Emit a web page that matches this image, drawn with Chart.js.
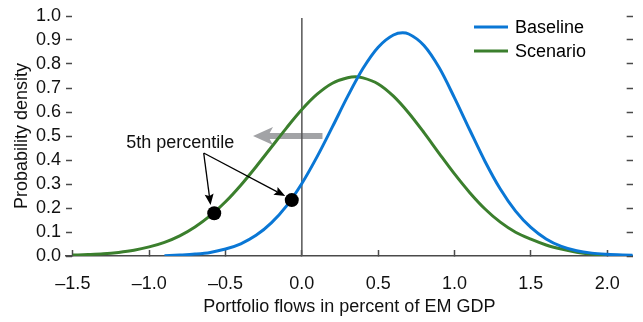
<!DOCTYPE html>
<html>
<head>
<meta charset="utf-8">
<script src="https://cdn.jsdelivr.net/npm/chart.js@4.4.1/dist/chart.umd.min.js"></script>
<style>
  html, body { margin: 0; padding: 0; background: #fff; }
  #wrap { width: 643px; height: 322px; position: relative; }
</style>
</head>
<body>
<div id="wrap"><canvas id="densityChart"></canvas></div>
<script>
// Portfolio flows density chart

// baseline curve
const baselineX = [-0.9, -0.8, -0.7, -0.6, -0.5, -0.4, -0.3, -0.2, -0.1, 0.0,
                   0.1, 0.2, 0.3, 0.4, 0.5, 0.6, 0.66, 0.7, 0.8, 0.9, 1.0,
                   1.1, 1.2, 1.3, 1.4, 1.5, 1.6, 1.7, 1.8, 1.9, 2.0, 2.1, 2.2];
const baselineY = [0.001, 0.004, 0.008, 0.015, 0.029, 0.051, 0.086, 0.138, 0.209, 0.302,
                   0.414, 0.538, 0.665, 0.781, 0.870, 0.921, 0.930, 0.925, 0.877, 0.784, 0.659,
                   0.525, 0.394, 0.279, 0.187, 0.119, 0.071, 0.040, 0.022, 0.012, 0.007, 0.004, 0.002];

// scenario curve
const scenarioX = [-1.5, -1.4, -1.3, -1.2, -1.1, -1.0, -0.9, -0.8, -0.7, -0.6,
                   -0.5, -0.4, -0.3, -0.2, -0.1, 0.0, 0.1, 0.2, 0.3, 0.35, 0.4,
                   0.5, 0.6, 0.7, 0.8, 0.9, 1.0, 1.1, 1.2, 1.3, 1.4,
                   1.5, 1.6, 1.7, 1.8, 1.9, 2.0];
const scenarioY = [0.004, 0.006, 0.009, 0.015, 0.024, 0.038, 0.057, 0.084, 0.121, 0.168,
                   0.226, 0.295, 0.372, 0.453, 0.534, 0.610, 0.674, 0.720, 0.743, 0.747, 0.742,
                   0.717, 0.666, 0.596, 0.514, 0.427, 0.342, 0.264, 0.196, 0.141, 0.099,
                   0.070, 0.046, 0.029, 0.016, 0.008, 0.003];

// 5th percentile markers (scenario, baseline)
const pctX = [-0.574, -0.066];
const pctY = [0.178, 0.233];

// vertical line at zero
const zeroLineX = [0, 0];
const zeroLineY = [0, 0.992];

// ticks
const xTicks = [-1.5, -1.0, -0.5, 0.0, 0.5, 1.0, 1.5, 2.0];
const xTickLabels = ['\u20131.5', '\u20131.0', '\u20130.5', '0.0', '0.5', '1.0', '1.5', '2.0'];
const yTicks = [0, 0.1, 0.2, 0.3, 0.4, 0.5, 0.6, 0.7, 0.8, 0.9, 1.0];
const yTickLabels = ['0.0', '0.1', '0.2', '0.3', '0.4', '0.5', '0.6', '0.7', '0.8', '0.9', '1.0'];

const BLUE = '#0a77d5';
const GREEN = '#3b7f2d';
const AXIS = '#4a4a4a';
const FONT = "'Liberation Sans', Arial, sans-serif";
const FSIZE = 18;

Chart.defaults.font.family = FONT;
Chart.defaults.font.size = FSIZE;
Chart.defaults.color = '#111';

function zip(xs, ys) {
    return xs.map((x, i) => ({ x: x, y: ys[i] }));
}

function arrow(ctx, x1, y1, x2, y2, len, half, notch, color, width) {
    const a = Math.atan2(y2 - y1, x2 - x1);
    const c = Math.cos(a), s = Math.sin(a);
    const bx = x2 - len * c, by = y2 - len * s;
    ctx.strokeStyle = color;
    ctx.lineWidth = width;
    ctx.beginPath();
    ctx.moveTo(x1, y1);
    ctx.lineTo(bx + notch * c, by + notch * s);
    ctx.stroke();
    ctx.fillStyle = color;
    ctx.beginPath();
    ctx.moveTo(x2, y2);
    ctx.lineTo(bx + half * s, by - half * c);
    ctx.lineTo(bx + notch * c, by + notch * s);
    ctx.lineTo(bx - half * s, by + half * c);
    ctx.closePath();
    ctx.fill();
}

// annotations: grey shift arrow, percentile label + arrows, legend
const annotations = {
    id: 'annotations',
    beforeDatasetsDraw(chart) {
        const { ctx, scales: { x, y } } = chart;
        ctx.save();
        arrow(ctx, x.getPixelForValue(0.135), y.getPixelForValue(0.5),
              x.getPixelForValue(-0.32), y.getPixelForValue(0.5),
              20, 9, 5, '#a2a3a6', 6);
        ctx.restore();
    },
    afterDatasetsDraw(chart) {
        const { ctx, scales: { x, y } } = chart;
        ctx.save();
        ctx.font = FSIZE + 'px ' + FONT;
        ctx.fillStyle = '#111';
        ctx.textBaseline = 'alphabetic';
        ctx.textAlign = 'left';
        ctx.fillText('5th percentile', x.getPixelForValue(-1.151), y.getPixelForValue(0.45));

        const ox = x.getPixelForValue(-0.643), oy = y.getPixelForValue(0.429);
        arrow(ctx, ox, oy, x.getPixelForValue(-0.598), y.getPixelForValue(0.2125), 11, 4.5, 2, '#000', 1.3);
        arrow(ctx, ox, oy, x.getPixelForValue(-0.109), y.getPixelForValue(0.25), 11, 4.5, 2, '#000', 1.3);

        // legend
        const items = [['Baseline', BLUE, 27], ['Scenario', GREEN, 51]];
        ctx.textBaseline = 'middle';
        items.forEach(([label, color, ly]) => {
            ctx.strokeStyle = color;
            ctx.lineWidth = 3;
            ctx.beginPath();
            ctx.moveTo(474, ly);
            ctx.lineTo(508, ly);
            ctx.stroke();
            ctx.fillText(label, 515, ly + 1);
        });
        ctx.restore();
    }
};

const ctx = document.getElementById('densityChart').getContext('2d');
new Chart(ctx, {
    type: 'line',
    data: {
        datasets: [
            {
                type: 'scatter',
                label: '5th percentile',
                data: zip(pctX, pctY),
                pointRadius: 7,
                pointBackgroundColor: '#000',
                pointBorderColor: '#000',
                pointBorderWidth: 0,
                showLine: false
            },
            {
                label: 'Baseline',
                data: zip(baselineX, baselineY),
                borderColor: BLUE,
                borderWidth: 3,
                pointRadius: 0,
                cubicInterpolationMode: 'monotone'
            },
            {
                label: 'Scenario',
                data: zip(scenarioX, scenarioY),
                borderColor: GREEN,
                borderWidth: 3,
                pointRadius: 0,
                cubicInterpolationMode: 'monotone'
            },
            {
                label: 'zero',
                data: zip(zeroLineX, zeroLineY),
                borderColor: '#555',
                borderWidth: 1.5,
                pointRadius: 0
            }
        ]
    },
    options: {
        responsive: true,
        maintainAspectRatio: false,
        animation: false,
        layout: { padding: { top: 16, right: 0, bottom: 0, left: 0 } },
        plugins: {
            legend: { display: false },
            tooltip: { enabled: false }
        },
        scales: {
            x: {
                type: 'linear',
                min: -1.545,
                max: 2.167,
                afterBuildTicks: s => { s.ticks = xTicks.map(v => ({ value: v })); },
                afterFit: s => { s.height = 66; },
                ticks: {
                    autoSkip: false,
                    maxRotation: 0,
                    padding: 23,
                    callback: (v, i) => xTickLabels[i]
                },
                grid: { drawOnChartArea: false, tickLength: -6, tickColor: AXIS, tickWidth: 1.5 },
                border: { display: true, color: AXIS, width: 1.5 },
                title: {
                    display: true,
                    text: 'Portfolio flows in percent of EM GDP',
                    padding: { top: 0, bottom: 4 }
                }
            },
            y: {
                position: 'left',
                min: 0,
                max: 1,
                afterBuildTicks: s => { s.ticks = yTicks.map(v => ({ value: v })); },
                afterFit: s => { s.width = 66; s.paddingTop = 0; s.paddingBottom = 0; },
                ticks: {
                    autoSkip: false,
                    padding: 11,
                    callback: (v, i) => yTickLabels[i]
                },
                grid: { drawOnChartArea: false, tickLength: -6, tickColor: AXIS, tickWidth: 1.5 },
                border: { display: false },
                title: {
                    display: true,
                    text: 'Probability density',
                    padding: { top: 11, bottom: 0 }
                }
            },
            y2: {
                position: 'right',
                min: 0,
                max: 1,
                afterBuildTicks: s => { s.ticks = yTicks.map(v => ({ value: v })); },
                afterFit: s => { s.width = 0; s.paddingTop = 0; s.paddingBottom = 0; },
                ticks: { display: false, autoSkip: false },
                grid: { drawOnChartArea: false, tickLength: -6, tickColor: AXIS, tickWidth: 1.5 },
                border: { display: false }
            }
        }
    },
    plugins: [annotations]
});
</script>
</body>
</html>
